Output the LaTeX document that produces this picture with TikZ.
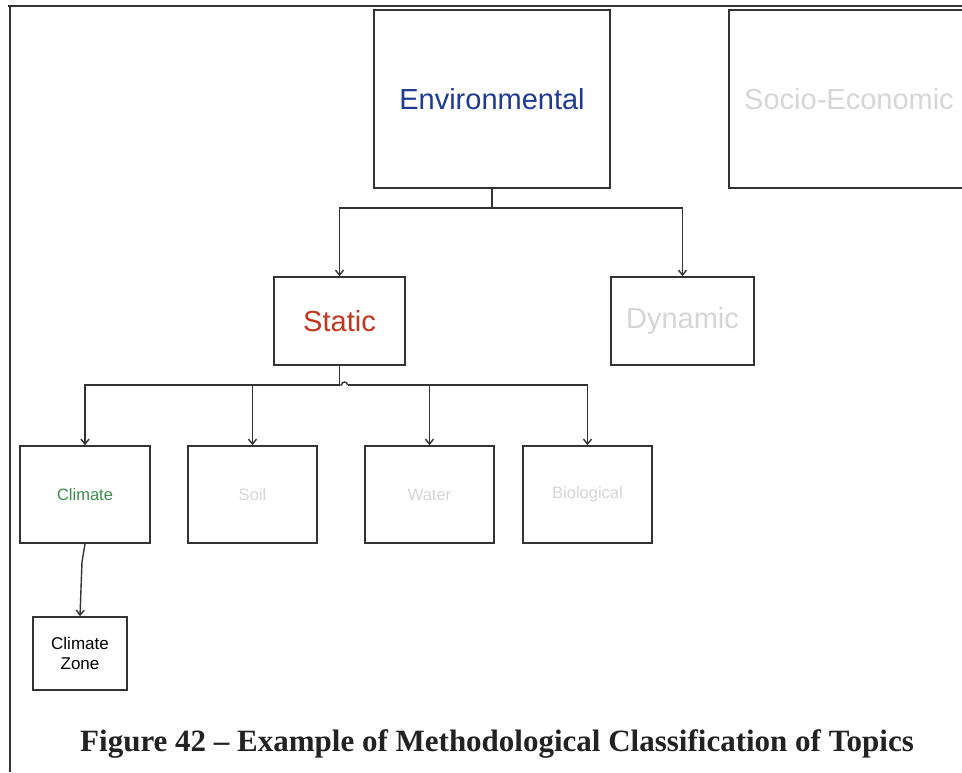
\documentclass[tikz,border=0pt]{standalone}
\usepackage{fontspec}
\setmainfont{Liberation Serif}
\newfontfamily\boxfont{Liberation Sans}
\usetikzlibrary{arrows.meta,calc}
\definecolor{envblue}{HTML}{1F3A93}
\definecolor{statred}{HTML}{C4351F}
\definecolor{climgreen}{HTML}{3C8C4C}
\definecolor{faint}{HTML}{D6D6D6}
\definecolor{edge}{HTML}{333333}
\definecolor{captext}{HTML}{222222}
\begin{document}
\begin{tikzpicture}[x=1pt,y=-1pt,
  topicbox/.style={draw=edge,line width=1.6pt,fill=white,inner sep=0pt,font=\boxfont},
  link/.style={draw=edge,line width=1.4pt},
  tip/.style={-{Straight Barb[length=5pt,width=8pt]}}]
\useasboundingbox (0,0) rectangle (962,772);
% page frame
\draw[edge,line width=1.8pt] (8,6) -- (962,6);
\draw[edge,line width=1.4pt] (10,6) -- (10,772);
% boxes
\node[topicbox,minimum width=236pt,minimum height=178pt,font=\boxfont\fontsize{29}{31}\selectfont,text=envblue] (env) at (492,99) {Environmental};
\node[topicbox,minimum width=240pt,minimum height=178pt,font=\boxfont\fontsize{29}{31}\selectfont,text=faint] (soc) at (849,99) {Socio-Economic};
\node[topicbox,minimum width=131pt,minimum height=88pt,font=\boxfont\fontsize{29}{31}\selectfont,text=statred] (stat) at (339.5,321) {Static};
\node[topicbox,minimum width=143pt,minimum height=88pt,font=\boxfont\fontsize{29}{31}\selectfont,text=faint] (dyn) at (682.5,321) {Dynamic};
\node[topicbox,minimum width=130pt,minimum height=97pt,font=\boxfont\fontsize{16.5}{19}\selectfont,text=climgreen] (clim) at (85,494.5) {Climate};
\node[topicbox,minimum width=129pt,minimum height=97pt,font=\boxfont\fontsize{16.5}{19}\selectfont,text=faint] (soil) at (252.5,494.5) {Soil};
\node[topicbox,minimum width=129pt,minimum height=97pt,font=\boxfont\fontsize{16.5}{19}\selectfont,text=faint] (water) at (429.5,494.5) {Water};
\node[topicbox,minimum width=129pt,minimum height=97pt,font=\boxfont\fontsize{16.5}{19}\selectfont,text=faint] (bio) at (587.5,494.5) {Biological};
\node[topicbox,minimum width=94pt,minimum height=73pt,font=\boxfont\fontsize{17}{20}\selectfont,text=black,align=center] (zone) at (80,653.5) {Climate\\Zone};
% connectors level 1
\coordinate (j1) at (env.south |- 0,208);
\draw[link] (env.south) -- (j1);
\draw[link,tip] (j1) -| (stat.north);
\draw[link,tip] (j1) -| (dyn.north);
% connectors level 2
\coordinate (j2) at (stat.south |- 0,385);
\draw[link] (stat.south) -- (j2);
\draw[link,tip] (j2) -| (clim.north);
\draw[link] (j2) -- ++(2,0) arc[start angle=180,end angle=360,radius=3];
\draw[link,tip] ($(j2)+(8,0)$) -| (bio.north);
\draw[link,tip] (soil.north |- j2) -- (soil.north);
\draw[link,tip] (water.north |- j2) -- (water.north);
% climate to zone
\draw[link,tip] (clim.south) -- ++(-3,18) -- (zone.north);
% caption
\node[font=\bfseries\fontsize{31}{34}\selectfont,text=captext,anchor=base] (cap) at (497,751) {Figure 42 -- Example of Methodological Classification of Topics};
\end{tikzpicture}
\end{document}
